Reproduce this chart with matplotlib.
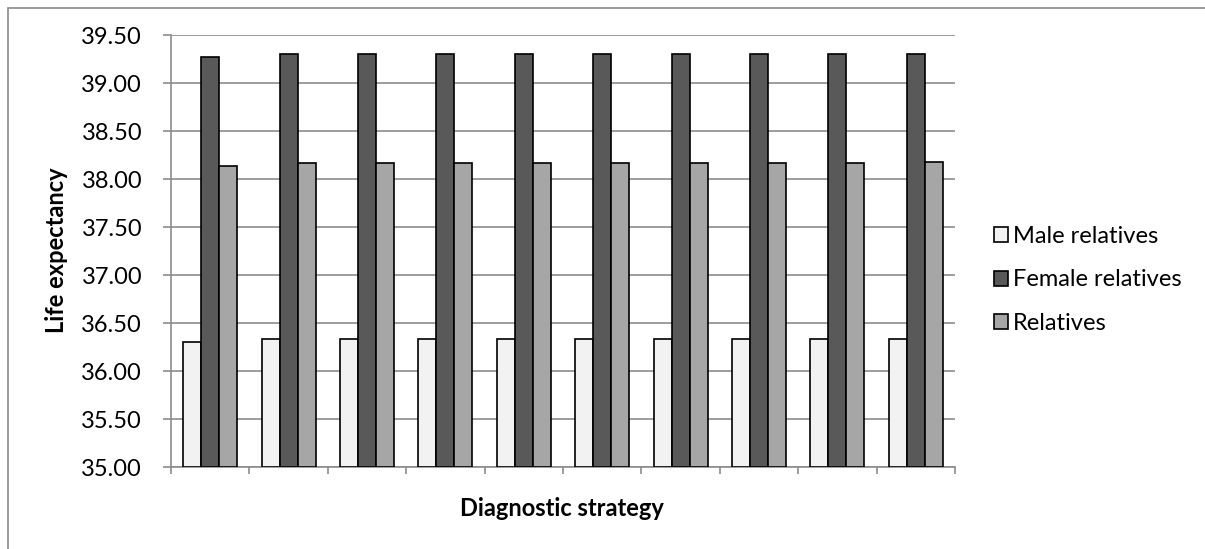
import matplotlib
matplotlib.use("Agg")
import matplotlib.pyplot as plt
import numpy as np
from matplotlib.patches import Rectangle

# Life expectancy per diagnostic strategy (10 strategies)
strategies = list(range(1, 11))
male_relatives = [36.30, 36.33, 36.33, 36.33, 36.33, 36.33, 36.33, 36.33, 36.33, 36.33]
female_relatives = [39.27, 39.30, 39.30, 39.30, 39.30, 39.30, 39.30, 39.30, 39.30, 39.30]
relatives = [38.14, 38.17, 38.17, 38.17, 38.17, 38.17, 38.17, 38.17, 38.17, 38.18]

series_labels = ["Male relatives", "Female relatives", "Relatives"]
series_colors = ["#F2F2F2", "#595959", "#A6A6A6"]
y_ticks = [35.0, 35.5, 36.0, 36.5, 37.0, 37.5, 38.0, 38.5, 39.0, 39.5]

plt.rcParams["font.family"] = ["Lato", "DejaVu Sans"]
FS = 17

W, H = 1205, 549
fig = plt.figure(figsize=(W / 100, H / 100), dpi=100)

# outer chart frame (runs off the right and bottom edges)
fig.patches.append(Rectangle((8 / W, -0.05), 1.2, 1 - 7.5 / H + 0.05,
                             transform=fig.transFigure, fill=False,
                             edgecolor="#8C8C8C", linewidth=1.2))

ax = fig.add_axes([171 / W, 1 - 467 / H, (955 - 171) / W, (467 - 35) / H])

x = np.arange(len(strategies))
bw = 0.23
data = [male_relatives, female_relatives, relatives]
handles = []
for i, (vals, col, lab) in enumerate(zip(data, series_colors, series_labels)):
    b = ax.bar(x + (i - 1) * bw, np.array(vals) - 35.0, width=bw, bottom=35.0,
               color=col, edgecolor="black", linewidth=1.2, label=lab, zorder=3)
    handles.append(b)

ax.set_xlim(-0.5, len(strategies) - 0.5)
ax.set_ylim(35.0, 39.5)
ax.set_yticks(y_ticks)
ax.set_yticklabels([f"{v:.2f}" for v in y_ticks], fontsize=FS)
ax.yaxis.grid(True, color="#8C8C8C", linewidth=1.2, zorder=0)
ax.set_axisbelow(True)

ax.set_xticks(np.arange(len(strategies) + 1) - 0.5)
ax.set_xticklabels([])
ax.tick_params(axis="x", length=5, width=1.2, color="#8C8C8C", direction="out")
ax.tick_params(axis="y", length=5.8, width=1.2, color="#8C8C8C", direction="out", pad=15)

for s in ["top", "right"]:
    ax.spines[s].set_visible(False)
for s in ["left", "bottom"]:
    ax.spines[s].set_color("#8C8C8C")
    ax.spines[s].set_linewidth(1.2)

fig.text(57 / W, 1 - 250 / H, "Life expectancy", fontsize=FS, fontweight="bold",
         rotation=90, ha="center", va="center")
fig.text(562 / W, 1 - 508 / H, "Diagnostic strategy", fontsize=FS,
         fontweight="bold", ha="center", va="center")

fig.legend(handles=handles, labels=series_labels, loc="center left",
           bbox_to_anchor=(994 / W, 1 - 280 / H), frameon=False, fontsize=FS,
           handlelength=0.6, handleheight=0.6, handletextpad=0.2,
           labelspacing=0.95, borderpad=0, borderaxespad=0)

fig.savefig("out.png", dpi=100)
